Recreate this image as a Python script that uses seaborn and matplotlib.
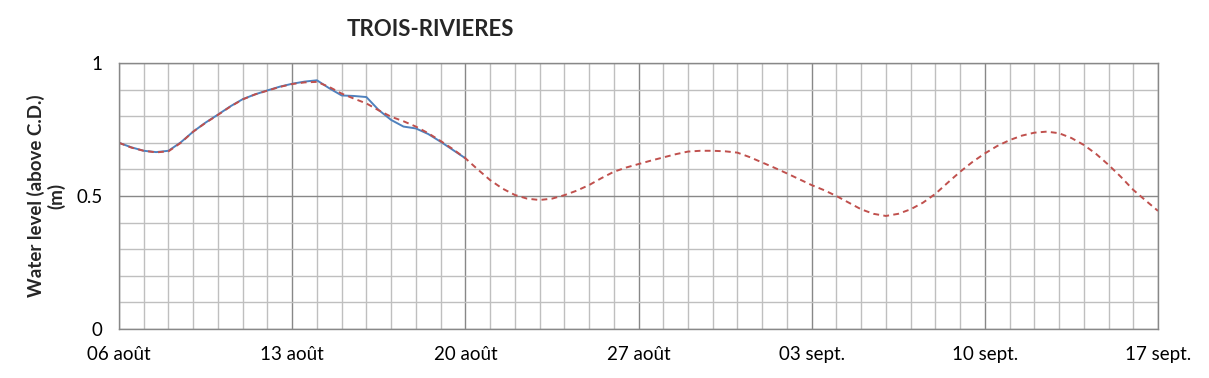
import matplotlib.pyplot as plt
import numpy as np
import pandas as pd
import seaborn as sns

sns.set_theme(style='white')
plt.rcParams['font.family'] = ['Lato', 'DejaVu Sans']

# Days since 06 août, sampled every half day
forecast_days = np.arange(0, 42.5, 0.5)
forecast_level = [
    0.700, 0.682, 0.670, 0.664, 0.668, 0.700, 0.742, 0.775, 0.805, 0.836,
    0.863, 0.882, 0.896, 0.910, 0.921, 0.927, 0.929, 0.910, 0.885, 0.866,
    0.848, 0.822, 0.798, 0.781, 0.761, 0.736, 0.707, 0.676, 0.642, 0.600,
    0.560, 0.528, 0.504, 0.490, 0.485, 0.490, 0.503, 0.520, 0.541, 0.567,
    0.591, 0.607, 0.620, 0.633, 0.645, 0.657, 0.667, 0.670, 0.670, 0.668,
    0.663, 0.646, 0.626, 0.606, 0.585, 0.563, 0.541, 0.522, 0.500, 0.475,
    0.450, 0.433, 0.425, 0.433, 0.450, 0.475, 0.508, 0.550, 0.591, 0.628,
    0.660, 0.688, 0.710, 0.727, 0.738, 0.742, 0.736, 0.718, 0.692, 0.658,
    0.617, 0.572, 0.523, 0.483, 0.444,
]
observed_days = np.arange(0, 14.5, 0.5)
observed_level = [
    0.700, 0.683, 0.670, 0.665, 0.670, 0.702, 0.742, 0.776, 0.806, 0.837,
    0.864, 0.882, 0.897, 0.911, 0.922, 0.930, 0.935, 0.905, 0.878, 0.876,
    0.872, 0.823, 0.786, 0.761, 0.754, 0.733, 0.704, 0.673, 0.642,
]
week_labels = ['06 août', '13 août', '20 août', '27 août', '03 sept.', '10 sept.', '17 sept.']
y_labels = ['0', '0.5', '1']

forecast = pd.DataFrame({'day': forecast_days, 'level': forecast_level})
observed = pd.DataFrame({'day': observed_days, 'level': observed_level})

fig = plt.figure(figsize=(12.09, 3.78), dpi=100)
ax = fig.add_axes([119 / 1209, 49 / 378, 1039 / 1209, 266 / 378])

sns.lineplot(data=observed, x='day', y='level', ax=ax, color='#4F81BD', linewidth=1.4)
sns.lineplot(data=forecast, x='day', y='level', ax=ax, color='#C0504D', linewidth=1.4,
             linestyle=(0, (3, 2.2)))

ax.set_xlim(0, 42)
ax.set_ylim(0, 1)
ax.set_xticks(np.arange(0, 43, 7))
ax.set_xticks(np.arange(0, 43, 1), minor=True)
ax.set_xticklabels(week_labels, fontsize=13.5)
ax.set_yticks([0, 0.5, 1])
ax.set_yticks(np.arange(0, 1.01, 0.1), minor=True)
ax.set_yticklabels(y_labels, fontsize=13.5)
ax.grid(which='minor', color='#BFBFBF', linewidth=1)
ax.grid(which='major', color='#888888', linewidth=1)
ax.set_axisbelow(True)
for spine in ax.spines.values():
    spine.set_color('#888888')
    spine.set_linewidth(1)
ax.tick_params(which='major', length=6, width=1, color='#888888', pad=6, direction='out',
               labelcolor='black')
ax.tick_params(which='minor', length=0)
ax.set_xlabel('')
ax.set_ylabel('Water level (above C.D.)\n(m)', fontsize=13.5, fontweight='bold',
              linespacing=1.15, labelpad=8)

fig.text(430 / 1209, 1 - 30 / 378, 'TROIS-RIVIERES', ha='center', va='center',
         fontsize=16, fontweight='bold')

fig.savefig('out.png', dpi=100)
